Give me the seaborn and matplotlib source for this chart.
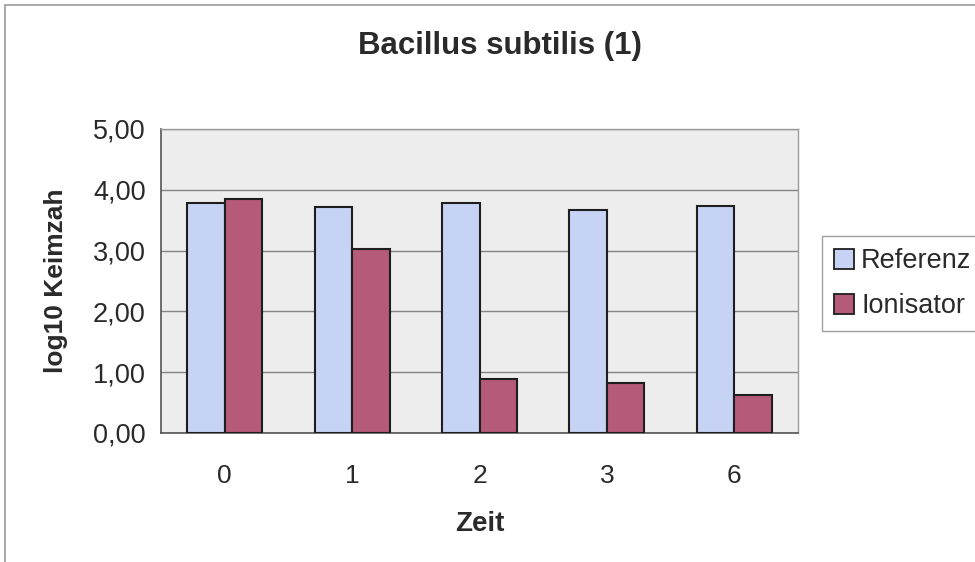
import matplotlib
matplotlib.use("Agg")
import matplotlib.pyplot as plt
import matplotlib.patches as mpatches
from matplotlib.ticker import FixedLocator, FuncFormatter
import numpy as np
import pandas as pd
import seaborn as sns

# Time points (category labels) and log10 germ counts per series
zeit = ["0", "1", "2", "3", "6"]
referenz = [3.78, 3.72, 3.78, 3.67, 3.74]
ionisator = [3.85, 3.02, 0.88, 0.83, 0.63]
series = ["Referenz", "Ionisator"]
y_ticks = [0, 1, 2, 3, 4, 5]

df = pd.DataFrame({
    "Zeit": zeit * 2,
    "Wert": referenz + ionisator,
    "Serie": [series[0]] * len(zeit) + [series[1]] * len(zeit),
})

sns.set_theme(style="white")
plt.rcParams["font.family"] = ["Liberation Sans", "DejaVu Sans"]

colors = {"Referenz": "#c6d3f4", "Ionisator": "#b65a7a"}
text_color = "#2a2a2a"

fig = plt.figure(figsize=(9.75, 5.62), dpi=100)
fig.patch.set_facecolor("white")
ax = fig.add_axes([161 / 975, 1 - 433 / 562, (798 - 161) / 975, (433 - 129) / 562])

sns.barplot(data=df, x="Zeit", y="Wert", hue="Serie", order=zeit,
            hue_order=series, palette=colors, width=0.59, dodge=True,
            edgecolor="#1e1e1e", linewidth=1.5, saturation=1, ax=ax,
            legend=False, zorder=3)

ax.set_facecolor("#ededed")
ax.set_ylim(0, 5)
ax.set_xlim(-0.5, len(zeit) - 0.5)
ax.yaxis.set_major_locator(FixedLocator(y_ticks))
ax.yaxis.set_major_formatter(FuncFormatter(lambda v, p: f"{v:.2f}".replace(".", ",")))
ax.grid(axis="y", color="#858585", linewidth=1.0, zorder=0)
ax.set_axisbelow(True)

# Category boundary ticks on the x axis
ax.xaxis.set_minor_locator(FixedLocator(np.arange(-0.5, len(zeit), 1.0)))
ax.tick_params(axis="x", which="major", length=0, pad=22, labelsize=19, labelcolor=text_color)
ax.tick_params(axis="x", which="minor", length=6, width=1, color="#555555", direction="out")
ax.tick_params(axis="y", which="major", length=6, width=1, color="#555555", direction="out",
               labelsize=19.5, labelcolor=text_color, pad=5)

for side in ["top", "right"]:
    ax.spines[side].set_color("#9a9a9a")
    ax.spines[side].set_linewidth(1.0)
for side in ["left", "bottom"]:
    ax.spines[side].set_color("#555555")
    ax.spines[side].set_linewidth(1.2)

ax.set_xlabel("Zeit", fontsize=20, fontweight="bold", color=text_color, labelpad=17)
ax.set_ylabel("log10 Keimzah", fontsize=19, fontweight="bold", color=text_color, labelpad=18)

fig.text(500 / 975, 1 - 46 / 562, "Bacillus subtilis (1)", ha="center", va="center",
         fontsize=22.5, fontweight="bold", color=text_color)

handles = [mpatches.Patch(facecolor=colors[s], edgecolor="#1e1e1e", linewidth=1.3, label=s)
           for s in series]
leg = fig.legend(handles=handles, loc="upper left", bbox_to_anchor=(822 / 975, 1 - 236 / 562),
                 frameon=True, fontsize=19.5, handlelength=0.74, handleheight=0.74,
                 handletextpad=0.25, borderpad=0.45, labelspacing=0.7, fancybox=False,
                 borderaxespad=0)
leg.get_frame().set_edgecolor("#888888")
leg.get_frame().set_linewidth(1.0)
for t in leg.get_texts():
    t.set_color(text_color)

# Outer chart frame
frame = mpatches.Rectangle((5 / 975, -0.05), 1.2, 1 - 5 / 562 + 0.05, transform=fig.transFigure,
                           fill=False, edgecolor="#999999", linewidth=1.2)
fig.patches.append(frame)

fig.savefig("out.png", dpi=100, facecolor="white")
